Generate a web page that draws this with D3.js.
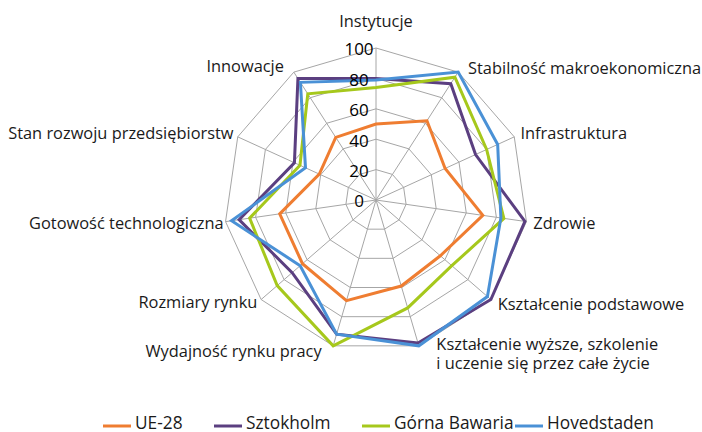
<!DOCTYPE html>
<html>
<head>
<meta charset="utf-8">
<script src="https://cdn.jsdelivr.net/npm/d3@7"></script>
<style>
  body { margin: 0; background: #fff; }
  svg text { font-family: "Open Sans", sans-serif; fill: #1a1a1a; }
</style>
</head>
<body>
<div id="chart"></div>
<script>
// categories (clockwise from top)
var axes = [
  "Instytucje",
  "Stabilność makroekonomiczna",
  "Infrastruktura",
  "Zdrowie",
  "Kształcenie podstawowe",
  "Kształcenie wyższe, szkolenie|i uczenie się przez całe życie",
  "Wydajność rynku pracy",
  "Rozmiary rynku",
  "Gotowość technologiczna",
  "Stan rozwoju przedsiębiorstw",
  "Innowacje"
];

// series values
var ue28       = [50, 62, 50, 71, 56, 59, 69, 64, 64, 41, 49];
var sztokholm  = [80, 91, 72, 99, 100, 98, 92, 73, 91, 59, 95];
var gornaBaw   = [74, 96, 80, 85, 66, 74, 100, 86, 84, 55, 83];
var hovedstad  = [79, 100, 88, 83, 97, 100, 92, 66, 96, 51, 92];

var seriesNames = ["UE-28", "Sztokholm", "Górna Bawaria", "Hovedstaden"];
var ticks = [0, 20, 40, 60, 80, 100];

////////////
// Layout //
////////////
var width = 702, height = 432;
var cx = 376, cy = 200, R = 152;
var colors = ["#ef7d31", "#5b3f80", "#a6c81c", "#4a91d6"];

// small hand tweaks of the label placement, per axis [dx, dy]
var labelNudge = [[0, 4], [5, 4], [-2, 0], [-2, 0], [0, -1], [0, -1],
                  [3, -3], [3, -3], [7, 0], [4, 0], [-5, 2]];

var svg = d3.select("#chart").append("svg")
    .attr("width", width)
    .attr("height", height);

var g = svg.append("g")
    .attr("transform", "translate(" + cx + "," + cy + ")");

var r = d3.scaleLinear().domain([0, 100]).range([0, R]);
var angle = d3.scaleLinear().domain([0, axes.length]).range([0, 2 * Math.PI]);

// grid rings
var ring = d3.lineRadial()
    .angle(function(d, i) { return angle(i); })
    .radius(function(d) { return r(d); })
    .curve(d3.curveLinearClosed);

g.selectAll(".ring")
  .data(ticks.slice(1))
  .enter().append("path")
    .attr("class", "ring")
    .attr("d", function(t) { return ring(axes.map(function() { return t; })); })
    .attr("fill", "none")
    .attr("stroke", "#a6a6a6")
    .attr("stroke-width", 1);

// spokes
g.selectAll(".spoke")
  .data(axes)
  .enter().append("line")
    .attr("class", "spoke")
    .attr("x1", 0).attr("y1", 0)
    .attr("x2", function(d, i) { return r(100) * Math.sin(angle(i)); })
    .attr("y2", function(d, i) { return -r(100) * Math.cos(angle(i)); })
    .attr("stroke", "#a6a6a6")
    .attr("stroke-width", 1);

// series
var allSeries = [ue28, sztokholm, gornaBaw, hovedstad];
g.selectAll(".series")
  .data(allSeries)
  .enter().append("path")
    .attr("class", "series")
    .attr("d", ring)
    .attr("fill", "none")
    .attr("stroke", function(d, i) { return colors[i]; })
    .attr("stroke-width", 3)
    .attr("stroke-linejoin", "miter");

// tick labels
g.selectAll(".tick")
  .data(ticks)
  .enter().append("text")
    .attr("class", "tick")
    .attr("x", -17)
    .attr("y", function(d) { return -r(d) + 1.5; })
    .attr("dy", "0.35em")
    .attr("text-anchor", "middle")
    .style("font-size", "17px")
    .style("fill", "#000")
    .text(function(d) { return d; });

// axis labels
g.selectAll(".axis-label")
  .data(axes)
  .enter().append("text")
    .attr("class", "axis-label")
    .style("font-size", "16.4px")
    .each(function(d, i) {
      var a = angle(i), s = Math.sin(a), c = Math.cos(a);
      var x = (R + 9) * s + labelNudge[i][0], y = -(R + 9) * c + labelNudge[i][1];
      var anchor = s > 0.1 ? "start" : (s < -0.1 ? "end" : "middle");
      if (c > 0.9) y -= 22;                 // top label
      if (c < -0.9) x += (s > 0 ? 15 : -12); // two bottom labels
      var lines = d.split("|");
      var t = d3.select(this)
          .attr("text-anchor", anchor)
          .attr("transform", "translate(" + x + "," + y + ")");
      lines.forEach(function(line, k) {
        t.append("tspan")
          .attr("x", 0)
          .attr("y", (k - (lines.length - 1) / 2) * 19)
          .attr("dy", "0.35em")
          .text(line);
      });
    });

////////////
// Legend //
////////////
var legendX = [103, 214, 362, 515];
var legend = svg.selectAll(".legend")
  .data(seriesNames)
  .enter().append("g")
    .attr("class", "legend")
    .attr("transform", function(d, i) { return "translate(" + legendX[i] + ",426)"; });

legend.append("line")
    .attr("x1", 0).attr("x2", 28)
    .attr("stroke", function(d, i) { return colors[i]; })
    .attr("stroke-width", 3);

legend.append("text")
    .attr("x", 32)
    .attr("y", 3)
    .style("font-size", "17.3px")
    .text(function(d) { return d; });
</script>
</body>
</html>
